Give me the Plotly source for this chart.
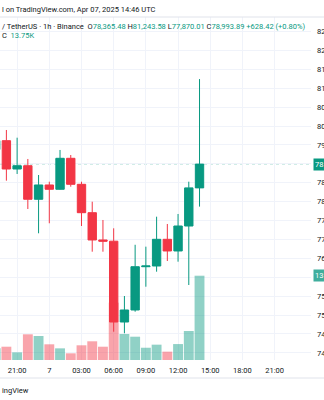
import plotly.graph_objects as go

# ---------------- data ----------------
times = ["2025-04-06 19:00", "2025-04-06 20:00", "2025-04-06 21:00", "2025-04-06 22:00",
         "2025-04-06 23:00", "2025-04-07 00:00", "2025-04-07 01:00", "2025-04-07 02:00",
         "2025-04-07 03:00", "2025-04-07 04:00", "2025-04-07 05:00", "2025-04-07 06:00",
         "2025-04-07 07:00", "2025-04-07 08:00", "2025-04-07 09:00", "2025-04-07 10:00",
         "2025-04-07 11:00", "2025-04-07 12:00", "2025-04-07 13:00", "2025-04-07 14:00"]
opens = [79380, 79614, 78865, 78952, 78064, 78442, 78328, 79148, 78460, 77709,
         76987, 76955, 74817, 75135, 76280, 76299, 77005, 76696, 77357, 78365.48]
highs = [79700, 79897, 79693, 79130, 78706, 78529, 79368, 79235, 78529, 78000,
         77516, 77296, 75505, 76860, 76810, 77603, 77410, 77675, 78529, 81243.58]
lows = [79300, 78556, 78733, 77807, 77164, 77429, 78320, 78397, 77357, 76677,
        76677, 74561, 74519, 75090, 75751, 76148, 76431, 76413, 75796, 77870.01]
closes = [79614, 78865, 78952, 78064, 78442, 78328, 79148, 78460, 77709, 76987,
          76955, 74817, 75135, 76280, 76299, 77005, 76696, 77357, 78365.48, 78993.89]
volumes = [1900, 2170, 1250, 4190, 3920, 2560, 1900, 1090, 2400, 3050,
           2170, 9350, 4240, 3800, 2000, 2500, 1360, 2600, 4730, 13750]

time_tickvals = ["2025-04-06 21:00", "2025-04-07 00:00", "2025-04-07 03:00",
                 "2025-04-07 06:00", "2025-04-07 09:00", "2025-04-07 12:00",
                 "2025-04-07 15:00", "2025-04-07 18:00", "2025-04-07 21:00"]
time_ticktext = ["21:00", "7", "03:00", "06:00", "09:00", "12:00", "15:00", "18:00", "21:00"]

price_tickvals = [74000, 74500, 75000, 75500, 76000, 76500, 77000, 77500, 78000,
                  78500, 79000, 79500, 80000, 80500, 81000, 81500, 82000, 82500]
hidden_price_ticks = [76000, 79000]   # covered by the scale labels in the reference

header_top = "l on TradingView.com, Apr 07, 2025 14:46 UTC"
symbol_text = "/ TetherUS · 1h · Binance"
ohlc_labels = ["O", "H", "L", "C"]
ohlc_values = ["78,365.48", "81,243.58", "77,870.01", "78,993.89"]
change_text = "+628.42 (+0.80%)"
vol_prefix = "C"
vol_text = "13.75K"
watermark = "ingView"

# ---------------- style ----------------
UP = "#089981"
DOWN = "#F23645"
UP_VOL = "rgba(8,153,129,0.45)"
DOWN_VOL = "rgba(242,54,69,0.45)"
GRID = "#f0f3fa"
TEXT = "#131722"
FONT = "Roboto"
FS = 7.5

W, H = 324, 400
M_L, M_R, M_T, M_B = 0, 13, 17, 40
plot_h = H - M_T - M_B
plot_w = W - M_L - M_R


def py(pix):  # pixel y -> paper y
    return (H - M_B - pix) / plot_h


def px(pix):  # pixel x -> paper x
    return (pix - M_L) / plot_w


def scale_text(v):
    # the price scale is cropped at the image edge: only the leading digits show
    return f"{int(v // 1000)}"


vol_colors = [UP_VOL if c >= o else DOWN_VOL for o, c in zip(opens, closes)]
price_ticktext = ["" if v in hidden_price_ticks else scale_text(v) for v in price_tickvals]

fig = go.Figure()
fig.add_trace(go.Bar(
    x=times, y=volumes, marker=dict(color=vol_colors, line=dict(width=0)),
    width=3600000 * 0.92, yaxis="y", showlegend=False, hoverinfo="skip",
))
fig.add_trace(go.Candlestick(
    x=times, open=opens, high=highs, low=lows, close=closes, yaxis="y2",
    increasing=dict(line=dict(color=UP, width=1), fillcolor=UP),
    decreasing=dict(line=dict(color=DOWN, width=1), fillcolor=DOWN),
    whiskerwidth=0, showlegend=False,
))

last_close = closes[-1]
last_vol = volumes[-1]

annotations = [
    dict(text=header_top, x=px(0), y=py(9), xref="paper", yref="paper",
         xanchor="left", yanchor="middle", showarrow=False,
         font=dict(size=FS, color=TEXT, family=FONT)),
]
teal = lambda s: f"<span style='color:{UP}'>{s}</span>"
line2 = symbol_text + "\u00a0\u00a0" + "\u00a0".join(
    f"{lab}{teal(val)}" for lab, val in zip(ohlc_labels, ohlc_values)) + "\u00a0" + teal(change_text)
annotations.append(dict(text=line2, x=px(0), y=py(26), xref="paper", yref="paper",
                        xanchor="left", yanchor="middle", showarrow=False,
                        font=dict(size=FS, color=TEXT, family=FONT)))
annotations.append(dict(text=vol_prefix + "\u00a0\u00a0" + teal(vol_text), x=px(0), y=py(36),
                        xref="paper", yref="paper", xanchor="left", yanchor="middle",
                        showarrow=False, font=dict(size=FS, color=TEXT, family=FONT)))
annotations.append(dict(text=watermark, x=px(0), y=py(390), xref="paper", yref="paper",
                        xanchor="left", yanchor="middle", showarrow=False,
                        font=dict(size=FS, color=TEXT, family=FONT)))
# price label and volume label on the (cropped) scale
annotations.append(dict(text=scale_text(last_close), x=px(312.5), y=last_close, xref="paper", yref="y2",
                        xanchor="left", yanchor="middle", showarrow=False, bgcolor=UP,
                        borderpad=1, width=9, align="left",
                        font=dict(size=FS, color="white", family=FONT)))
annotations.append(dict(text=scale_text(last_vol), x=px(312.5), y=last_vol, xref="paper", yref="y",
                        xanchor="left", yanchor="middle", showarrow=False, bgcolor="#3fae9d",
                        borderpad=1, width=9, align="left",
                        font=dict(size=FS, color="white", family=FONT)))

shapes = [
    dict(type="line", xref="paper", yref="y2", x0=0, x1=1, y0=last_close, y1=last_close,
         line=dict(color="rgba(8,153,129,0.3)", width=1, dash="dot"), layer="below"),
    dict(type="line", xref="paper", yref="paper", x0=0, x1=px(W), y0=py(378), y1=py(378),
         line=dict(color="#e0e3eb", width=1)),
    dict(type="line", xref="paper", yref="paper", x0=0, x1=px(W), y0=1, y1=1,
         line=dict(color="#e0e3eb", width=1)),
]

fig.update_layout(
    width=W, height=H,
    margin=dict(l=M_L, r=M_R, t=M_T, b=M_B, pad=0, autoexpand=False),
    paper_bgcolor="white", plot_bgcolor="white",
    font=dict(family=FONT, size=FS, color=TEXT),
    boxgap=0.22, boxgroupgap=0,
    xaxis=dict(
        type="date", range=["2025-04-06 19:24:18", "2025-04-08 00:23:24"],
        rangeslider=dict(visible=False), automargin=False,
        tickvals=time_tickvals, ticktext=time_ticktext,
        showgrid=True, gridcolor=GRID, gridwidth=1,
        showline=False, zeroline=False, ticks="", ticklabelstandoff=4,
        tickfont=dict(size=FS, color=TEXT, family=FONT),
    ),
    yaxis=dict(
        range=[0, 55950], visible=False, showgrid=False, zeroline=False, fixedrange=True,
    ),
    yaxis2=dict(
        overlaying="y", side="right", range=[73812, 82886],
        tickvals=price_tickvals, ticktext=price_ticktext, automargin=False,
        showgrid=True, gridcolor=GRID, gridwidth=1,
        zeroline=False, showline=False, ticks="", ticklabelstandoff=5,
        tickfont=dict(size=FS, color=TEXT, family=FONT),
    ),
    annotations=annotations,
    shapes=shapes,
    showlegend=False,
    hovermode=False,
)

fig.write_html("out.html")
